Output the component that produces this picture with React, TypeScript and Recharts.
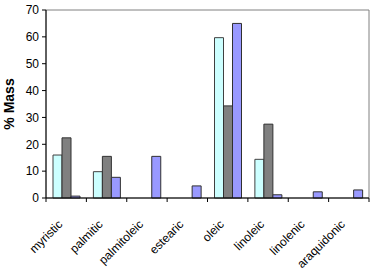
import React from 'react'
import { BarChart, Bar, XAxis, YAxis, ReferenceArea } from 'recharts'

const acids = ['myristic', 'palmitic', 'palmitoleic', 'estearic', 'oleic', 'linoleic', 'linolenic', 'araquidonic']
const seriesA = [16, 9.8, 0, 0, 59.7, 14.4, 0, 0]
const seriesB = [22.4, 15.5, 0, 0, 34.3, 27.5, 0, 0]
const seriesC = [0.7, 7.7, 15.5, 4.5, 65, 1.2, 2.3, 3]
const yTicks = [0, 10, 20, 30, 40, 50, 60, 70]

const data = acids.map((name, i) => ({ name, a: seriesA[i], b: seriesB[i], c: seriesC[i] }))

const font = 'Liberation Sans, Arial, sans-serif'

// category labels slanted at 45deg, tick marks on the category boundaries
const XTick = (props: any) => {
  const { x, y, payload, index } = props
  const half = payload.offset ?? 20
  const left = x - half
  const tx = x - 3
  const ty = y + 19
  return (
    <g>
      <line x1={left} y1={y - 8} x2={left} y2={y - 4} stroke="#000" />
      {index === acids.length - 1 && (
        <line x1={x + half} y1={y - 8} x2={x + half} y2={y - 4} stroke="#000" />
      )}
      <text
        x={tx}
        y={ty}
        textAnchor="end"
        fontSize={12}
        fontFamily={font}
        fill="#000"
        transform={`rotate(-45 ${tx} ${ty})`}
      >
        {payload.value}
      </text>
    </g>
  )
}

const App = () => {
  return (
    <div style={{ position: 'absolute', left: 0, top: 0 }}>
      <BarChart
        width={371}
        height={276}
        data={data}
        margin={{ top: 10, right: 2, left: 0, bottom: 0 }}
        barCategoryGap={7}
        barGap={0}
      >
        <ReferenceArea y1={0} y2={70} stroke="#808080" fill="none" strokeWidth={1} />
        <XAxis
          dataKey="name"
          height={78}
          interval={0}
          tickLine={false}
          axisLine={{ stroke: '#000' }}
          tick={<XTick />}
        />
        <YAxis
          width={46}
          domain={[0, 70]}
          ticks={yTicks}
          interval={0}
          tickSize={4}
          tickMargin={3}
          axisLine={{ stroke: '#000' }}
          tickLine={{ stroke: '#000' }}
          tick={{ fontSize: 12, fontFamily: font, fill: '#000' }}
          label={{
            value: '% Mass',
            angle: -90,
            position: 'insideLeft',
            offset: 9,
            style: { fontSize: 14, fontWeight: 'bold', fontFamily: font, fill: '#000', textAnchor: 'middle' },
          }}
        />
        <Bar dataKey="a" fill="#CCFFFF" stroke="#404040" strokeWidth={1} isAnimationActive={false} />
        <Bar dataKey="b" fill="#808080" stroke="#303030" strokeWidth={1} isAnimationActive={false} />
        <Bar dataKey="c" fill="#9999FF" stroke="#303030" strokeWidth={1} isAnimationActive={false} />
      </BarChart>
    </div>
  )
}

export default App
